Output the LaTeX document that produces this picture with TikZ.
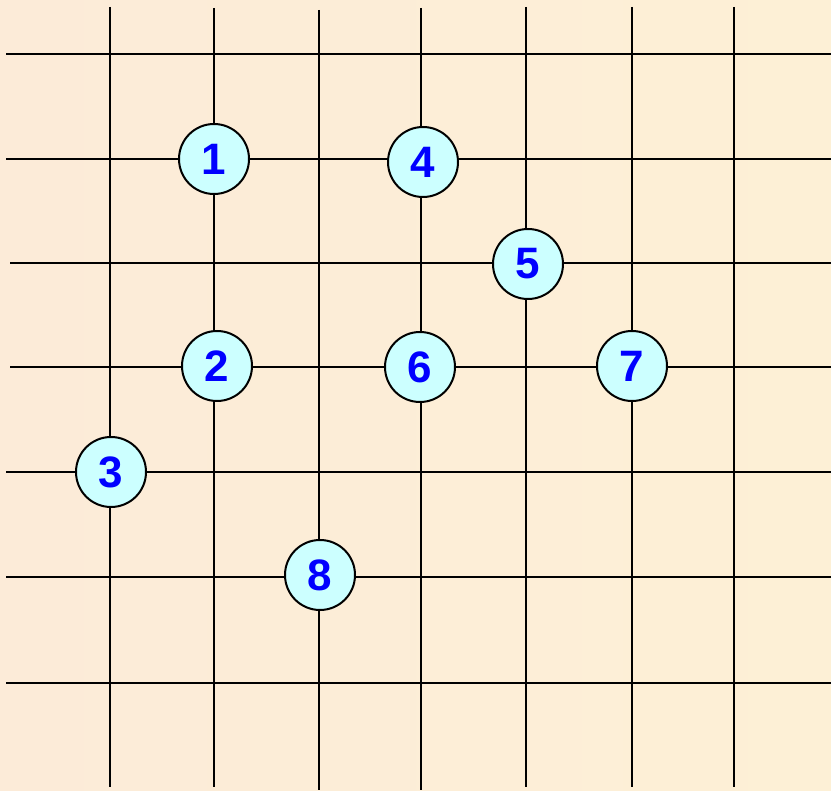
\documentclass[tikz,border=0pt]{standalone}
\usepackage{fontspec}
\setmainfont{Liberation Sans}
\definecolor{bgA}{HTML}{FCEBD8}
\definecolor{bgB}{HTML}{FDF0D6}
\definecolor{cellfill}{HTML}{CCFFFF}
\definecolor{numblue}{HTML}{0000FF}
\tikzset{
  gridline/.style={line width=2.2pt, black},
  vertex/.style={circle, draw=black, line width=2pt, fill=cellfill,
    minimum size=70pt, inner sep=0pt, text=numblue,
    font=\fontsize{44}{44}\selectfont\bfseries}
}
\begin{document}
\begin{tikzpicture}[x=1pt, y=-1pt]
\useasboundingbox (0,0) rectangle (831,791);
\shade[left color=bgA, right color=bgB] (0,0) rectangle (831,791);
% vertical lines
\foreach \x/\t/\b in {110/7/787, 214/8/787, 319/10/790, 421/8/790, 526/7/787, 632/7/787, 734/7/787}
  \draw[gridline] (\x,\t) -- (\x,\b);
% horizontal lines
\foreach \y/\l in {54/6, 159/6, 263/10, 367/10, 472/6, 577/6, 683/6}
  \draw[gridline] (\l,\y) -- (831,\y);
% vertices
\node[vertex] (n1) at (214,159) {1};
\node[vertex] (n4) at (423,162) {4};
\node[vertex] (n5) at (528,264) {5};
\node[vertex] (n2) at (217,366) {2};
\node[vertex] (n6) at (420,367) {6};
\node[vertex] (n7) at (632,366) {7};
\node[vertex] (n3) at (111,472) {3};
\node[vertex] (n8) at (320,575) {8};
\end{tikzpicture}
\end{document}
